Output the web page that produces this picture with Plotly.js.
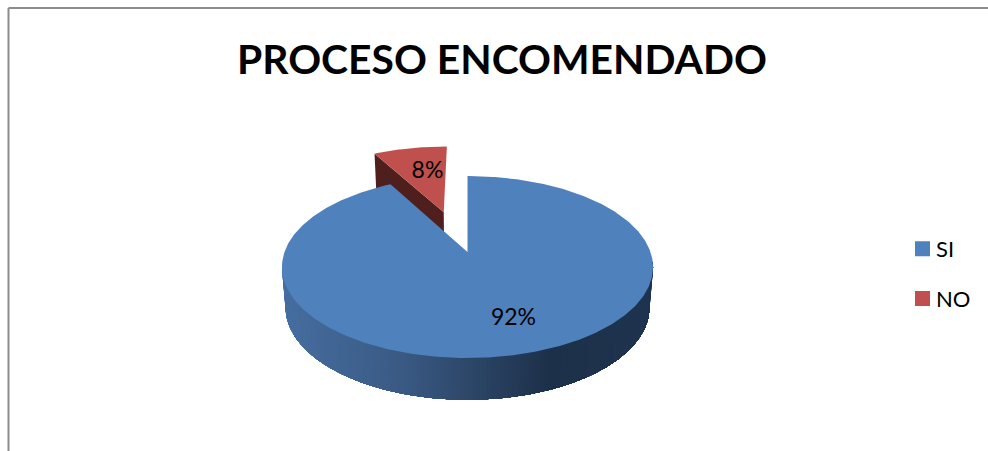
<!DOCTYPE html>
<html>
<head>
<meta charset="utf-8">
<script src="https://cdn.plot.ly/plotly-3.0.1.min.js"></script>
<style>html,body{margin:0;padding:0;background:#fff;overflow:hidden}#c{width:988px;height:451px}</style>
</head>
<body>
<div id="c"></div>
<script>
const categories = ['SI', 'NO'];
const values = [92, 8];
const faceColors = ['#4F81BD', '#C0504D'];
const chartTitle = 'PROCESO ENCOMENDADO';

const total = values.reduce((a, b) => a + b, 0);
const sweepDeg = values.map(v => v / total * 360);
const rad = d => d * Math.PI / 180;

// Perspective projection of the pie's plane
const K = 0.165, CX = 467.5;
const TOP = {cy: 252, rx: 183, ry: 88.5};
const BOT = {cy: 292, rx: 179.5, ry: 90};
const EXPLODE = 0.5, NUDGE_U = -0.016;
function project(u, v, plane) {
  const w = 1 + K * v;
  return [CX + plane.rx * u / w, plane.cy - plane.ry * v / w];
}
function rim(deg, plane, ou = 0, ov = 0) {
  return project(Math.sin(rad(deg)) + ou, Math.cos(rad(deg)) + ov, plane);
}
function poly(pts, color) {
  return {
    type: 'scatter', mode: 'lines', fill: 'toself', fillcolor: color,
    x: pts.map(p => p[0]), y: pts.map(p => p[1]),
    line: {color: color, width: 0}, hoverinfo: 'skip', showlegend: false
  };
}
function arc(a, b, plane, ou, ov) {
  const pts = [], n = Math.max(2, Math.ceil(Math.abs(b - a) * 1.5));
  for (let i = 0; i <= n; i++) pts.push(rim(a + (b - a) * i / n, plane, ou, ov));
  return pts;
}

const traces = [];

// Exploded slice (NO): occupies the end of the circle
const a0 = sweepDeg[0], a1 = 360;
const mid = rad((a0 + a1) / 2);
const ou = Math.sin(mid) * EXPLODE + NUDGE_U, ov = Math.cos(mid) * EXPLODE;
traces.push(poly([
  project(ou, ov, TOP), rim(a0, TOP, ou, ov), rim(a0, BOT, ou, ov), project(ou, ov, BOT)
], '#4F1F1D'));
traces.push(poly([project(ou, ov, TOP), ...arc(a0, a1, TOP, ou, ov)], faceColors[1]));

// Shaded wall of the large slice: overlapping strips painted left to right across the front
const stops = [[285, [70, 110, 160]], [400, [58, 90, 132]], [547, [29, 48, 73]], [650, [31, 52, 80]]];
function shade(x) {
  let i = 0;
  while (i < stops.length - 2 && x > stops[i + 1][0]) i++;
  const [x0, c0] = stops[i], [x1, c1] = stops[i + 1];
  const t = Math.min(1, Math.max(0, (x - x0) / (x1 - x0)));
  return 'rgb(' + c0.map((c, j) => Math.round(c + (c1[j] - c) * t)).join(',') + ')';
}
// Whole wall first, so the strips never show background through their seams
const STEP = 1;
for (let d = 264; d > 96; d -= STEP) {
  const end = 96;
  const m = rim(d, BOT);
  traces.push(poly([...arc(d, end, TOP, 0, 0), ...arc(end, d, BOT, 0, 0)], shade(m[0])));
}

// Top face of the large slice
traces.push(poly([project(0, 0, TOP), ...arc(0, sweepDeg[0], TOP, 0, 0)], faceColors[0]));

// Percentage labels
const pct = values.map(v => Math.round(v / total * 100) + '%');
traces.push({
  type: 'scatter', mode: 'text', x: [513.5, 427.5], y: [319.5, 172], text: pct,
  textposition: 'middle center', textfont: {family: 'Lato, sans-serif', size: 23, color: '#000'},
  hoverinfo: 'skip', showlegend: false
});

// Legend entries
categories.forEach((c, i) => traces.push({
  type: 'scatter', mode: 'markers', x: [-100], y: [-100], name: c, legendgroup: c,
  marker: {symbol: 'square', size: 15, color: faceColors[i]}, hoverinfo: 'skip'
}));

Plotly.newPlot('c', traces, {
  width: 988, height: 451,
  margin: {l: 0, r: 0, t: 0, b: 0},
  paper_bgcolor: '#fff', plot_bgcolor: '#fff',
  title: {
    text: '<b>' + chartTitle + '</b>', x: 502 / 988, xanchor: 'center', y: 1 - 60 / 451, yanchor: 'middle',
    font: {family: 'Lato, sans-serif', size: 40.8, color: '#000'}
  },
  xaxis: {range: [0, 988], visible: false, fixedrange: true},
  yaxis: {range: [451, 0], visible: false, fixedrange: true},
  showlegend: true,
  legend: {
    x: 902.5 / 988, y: 1 - 228 / 451, xanchor: 'left', yanchor: 'top',
    font: {family: 'Lato, sans-serif', size: 22, color: '#000'},
    tracegroupgap: 18, bgcolor: 'rgba(0,0,0,0)'
  },
  shapes: [
    {type: 'line', xref: 'x', yref: 'y', x0: 8.5, x1: 988, y0: 8, y1: 8, line: {color: '#8c8c8c', width: 2}},
    {type: 'line', xref: 'x', yref: 'y', x0: 8.5, x1: 8.5, y0: 8, y1: 451, line: {color: '#8c8c8c', width: 2}}
  ]
}, {displayModeBar: false, staticPlot: true}).then(gd => {
  // Tighten the gap between legend swatch and label
  gd.querySelectorAll('.legendtext').forEach(t => {
    t.setAttribute('x', parseFloat(t.getAttribute('x')) - 6.5);
  });
});
</script>
</body>
</html>
